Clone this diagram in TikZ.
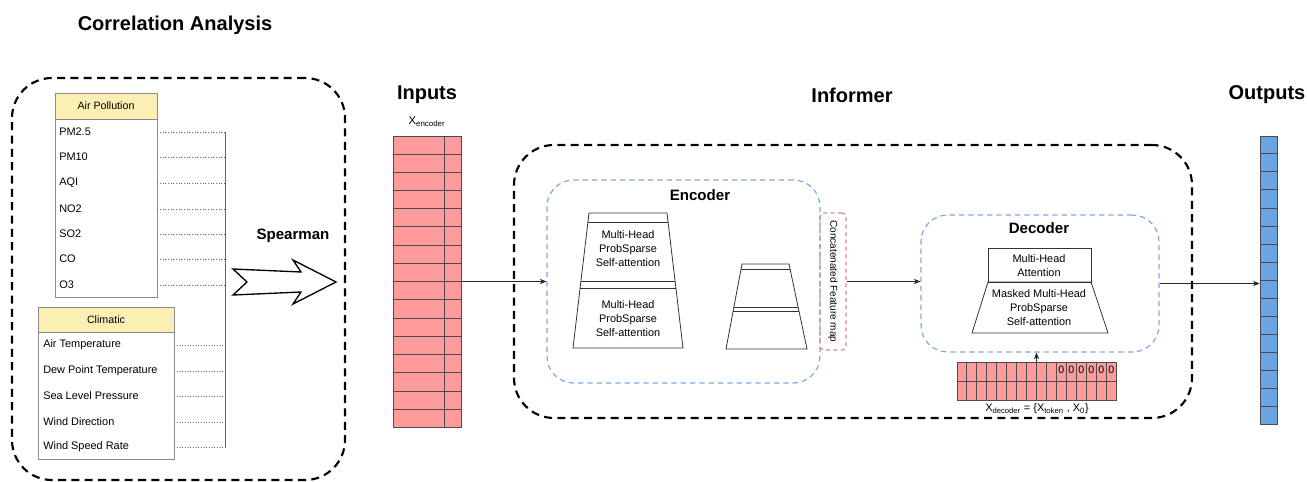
\documentclass[tikz,border=0pt]{standalone}
\usepackage{fontspec}
\setmainfont{Liberation Sans}
\usetikzlibrary{arrows.meta,positioning,calc,fit}

\definecolor{hdryellow}{HTML}{FCEFB4}
\definecolor{cellred}{HTML}{FF9B9B}
\definecolor{cellblue}{HTML}{68A5E2}
\definecolor{dashblue}{HTML}{7EA9E1}
\definecolor{dashpink}{HTML}{DE7FA3}

\begin{document}
\begin{tikzpicture}[
  x=0.75pt, y=-0.75pt,
  title/.style={font=\fontsize{15}{18}\selectfont\bfseries, inner sep=0},
  subtitle/.style={font=\fontsize{11.3}{13}\selectfont\bfseries, inner sep=0},
  txt/.style={font=\fontsize{8.2}{10.5}\selectfont, align=center, inner sep=0},
  rowtxt/.style={font=\fontsize{8.2}{10}\selectfont, anchor=west, inner sep=0},
  group/.style={draw, line width=1.6pt, dash pattern=on 6pt off 4pt,
    rounded corners=30pt, inner sep=0},
  block/.style={draw=dashblue, line width=0.9pt, dash pattern=on 4pt off 3pt,
    rounded corners=20pt, inner sep=0},
  hdr/.style={draw=black!45, fill=hdryellow, inner sep=0},
  hdrtxt/.style={inner sep=0, font=\fontsize{8}{10}\selectfont},
  tbl/.style={draw=black!45, fill=white, inner sep=0},
  layerline/.style={draw=black!80, line width=0.6pt},
  cellbox/.style={draw=black!70, line width=0.5pt, inner sep=0},
  cellline/.style={draw=black!70, line width=0.5pt},
  dotline/.style={draw=black!60, dash pattern=on 0.8pt off 1.2pt, line width=0.5pt},
  conn/.style={draw=black!85, line width=0.6pt,
    -{Stealth[length=5pt, width=4pt]}}
]
\useasboundingbox (0,0) rectangle (1307,482);

% Titles
\node[title] (corrtitle) at (175,25) {Correlation Analysis};
\node[title] (inputstitle) at (427,95) {Inputs};
\node[title] (informertitle) at (852,95) {Informer};
\node[title] (outputstitle) at (1267,95) {Outputs};

% Correlation analysis group
\node[group, fit={(12,78) (345,480)}] (corr) {};
\coordinate (tap) at (225,130);

\node[hdr, fit={(55,93) (157,119)}] (airhdr) {};
\node[hdrtxt] (airlbl) at (airhdr.center) {Air Pollution};
\node[tbl, fit={(55,119) (157,297)}] (airtbl) {};
\foreach \name/\lbl/\y in {pm25/PM2.5/132, pm10/PM10/157, aqi/AQI/183,
    no2/NO2/209, so2/SO2/234, co/CO/259, o3/O3/285} {
  \node[rowtxt] (\name) at (59,\y) {\lbl};
  \draw[dotline] (\name -| airtbl.east) -- (\name -| tap);
}

\node[hdr, fit={(38,307) (174,332)}] (climhdr) {};
\node[hdrtxt] (climlbl) at (climhdr.center) {Climatic};
\node[tbl, fit={(38,332) (174,459)}] (climtbl) {};
\foreach \name/\lbl/\y in {at/Air Temperature/345, dpt/Dew Point Temperature/371,
    slp/Sea Level Pressure/396, wd/Wind Direction/422, wsr/Wind Speed Rate/447} {
  \node[rowtxt] (\name) at (43,\y) {\lbl};
  \draw[dotline] (\name -| climtbl.east) -- (\name -| tap);
}
\draw[draw=black!60, line width=0.5pt] (pm25 -| tap) -- (wsr -| tap);

% Spearman arrow
\node[subtitle] (spear) at (293,236) {Spearman};
\draw[line width=1pt, fill=white, line join=miter]
  (233,269) -- (247,282) -- (233,295) -- (301,292) -- (293,304)
  -- (336,282) -- (293,260) -- (301,272) -- cycle;

% Encoder input column
\node[txt, font=\fontsize{8.5}{10}\selectfont] (xenc) at (427,122) {X\textsubscript{encoder}};
\node[cellbox, fill=cellred, fit={(393,136) (461,427)}] (inputs) {};
\foreach \i in {1,...,15}
  \draw[cellline] ($(inputs.north west)!\i/16!(inputs.south west)$)
    -- ($(inputs.north east)!\i/16!(inputs.south east)$);
\draw[cellline] ($(inputs.north west)!0.75!(inputs.north east)$)
  -- ($(inputs.south west)!0.75!(inputs.south east)$);

% Informer group
\node[group, fit={(514,145) (1192,418)}] (informer) {};

% Encoder
\node[block, fit={(547,180) (820,383)}] (enc) {};
\node[subtitle] (enctitle) at (700,195) {Encoder};

\coordinate (e1tl) at (589,213); \coordinate (e1tr) at (667,213);
\coordinate (e1bl) at (573,348); \coordinate (e1br) at (683,348);
\draw[layerline] (e1tl) -- (e1tr) -- (e1br) -- (e1bl) -- cycle;
\foreach \t in {0.067,0.504,0.556}
  \draw[layerline] ($(e1tl)!\t!(e1bl)$) -- ($(e1tr)!\t!(e1br)$);
\node[txt] (attn1) at (628,249) {Multi-Head\\ProbSparse\\Self-attention};
\node[txt] (attn2) at (628,319) {Multi-Head\\ProbSparse\\Self-attention};

\coordinate (e2tl) at (742,264); \coordinate (e2tr) at (789,264);
\coordinate (e2bl) at (726,349); \coordinate (e2br) at (807,349);
\draw[layerline] (e2tl) -- (e2tr) -- (e2br) -- (e2bl) -- cycle;
\foreach \t in {0.059,0.506,0.553}
  \draw[layerline] ($(e2tl)!\t!(e2bl)$) -- ($(e2tr)!\t!(e2br)$);

% Concatenated feature map
\node[draw=dashpink, line width=0.9pt, dash pattern=on 3pt off 2.5pt,
  rounded corners=3pt, inner sep=0, fit={(820,213) (846,350)}] (concat) {};
\node[rotate=-90, inner sep=0, font=\fontsize{7.5}{9}\selectfont]
  (concattxt) at (concat.center) {Concatenated Feature map};

% Decoder
\node[block, fit={(921,215) (1159,352)}] (dec) {};
\node[subtitle] (dectitle) at (1039,228) {Decoder};
\draw[layerline] (988,248) rectangle (1091,282);
\draw[layerline] (988,282) -- (1091,282) -- (1108,333) -- (972,333) -- cycle;
\node[txt] (crossattn) at (1039,265.5) {Multi-Head\\Attention};
\node[txt] (maskattn) at (1039,308) {Masked Multi-Head\\ProbSparse\\Self-attention};

% Decoder input
\node[cellbox, fill=cellred, fit={(957,362) (1116,400)}] (decin) {};
\draw[cellline] (decin.west) -- (decin.east);
\foreach \i in {1,...,15}
  \draw[cellline] ($(decin.north west)!\i/16!(decin.north east)$)
    -- ($(decin.south west)!\i/16!(decin.south east)$);
\foreach \i in {10,...,15}
  \node[inner sep=0, font=\fontsize{8}{9}\selectfont] (zero\i)
    at ($(decin.north west)!{(\i+0.5)/16}!(decin.north east) + (0,8.5)$) {0};
\node[txt] (xdec) at (1037,409)
  {X\textsubscript{decoder} = \{X\textsubscript{token} , X\textsubscript{0}\}};

% Output column
\node[cellbox, fill=cellblue, fit={(1260,136) (1277,424)}] (outputs) {};
\foreach \i in {1,...,15}
  \draw[cellline] ($(outputs.north west)!\i/16!(outputs.south west)$)
    -- ($(outputs.north east)!\i/16!(outputs.south east)$);

% Connectors
\draw[conn] (inputs.east) -- (inputs.east -| enc.west);
\draw[conn] (concat.east) -- (concat.east -| dec.west);
\draw[conn] (dec.east) -- (dec.east -| outputs.west);
\draw[conn] (decin.north) -- (decin.north |- dec.south);

\end{tikzpicture}
\end{document}
